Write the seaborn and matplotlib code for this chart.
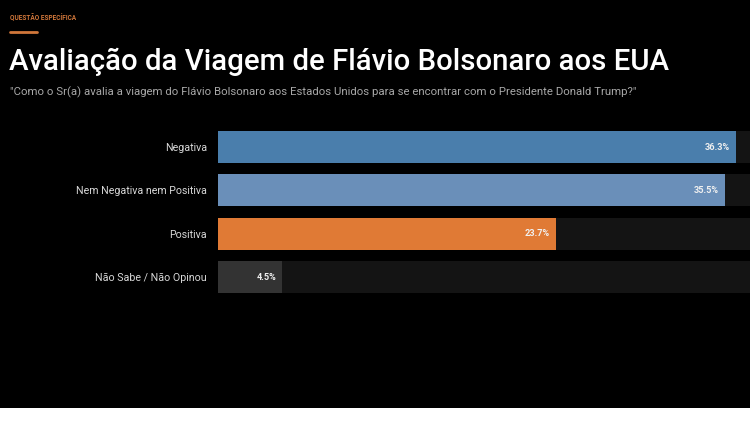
import matplotlib
matplotlib.use("Agg")
import matplotlib.pyplot as plt
import seaborn as sns
import pandas as pd

categorias = ["Negativa", "Nem Negativa nem Positiva", "Positiva", "Não Sabe / Não Opinou"]
valores = [36.3, 35.5, 23.7, 4.5]
cores = ["#4a7eac", "#6a8fb9", "#e07a35", "#333333"]
rotulos = ["36.3%", "35.5%", "23.7%", "4.5%"]

df = pd.DataFrame({"categoria": categorias, "valor": valores})
df["fundo"] = 100.0

sns.set_theme(style="dark")
plt.rcParams["font.family"] = ["Roboto", "DejaVu Sans"]

fig = plt.figure(figsize=(7.5, 4.23), dpi=100)
fig.patch.set_facecolor("black")
ax = fig.add_axes([218 / 750, 1 - 298.7 / 423, 1 - 218 / 750, (298.7 - 125.4) / 423])
ax.set_facecolor("black")

# trilha de fundo
sns.barplot(data=df, x="fundo", y="categoria", color="#141414", width=0.74,
            orient="h", ax=ax, saturation=1, linewidth=0)
sns.barplot(data=df, x="valor", y="categoria", hue="categoria", palette=cores,
            width=0.74, orient="h", ax=ax, saturation=1, legend=False, linewidth=0)

ax.set_xlim(0, (750 - 218) / 14.27)
ax.set_ylim(3.5, -0.5)
ax.set_xlabel("")
ax.set_ylabel("")
ax.set_xticks([])
ax.tick_params(axis="y", length=0, pad=8, labelsize=7.7, labelcolor="#d8d8d8")
for s in ax.spines.values():
    s.set_visible(False)
ax.grid(False)

for i, (v, r) in enumerate(zip(valores, rotulos)):
    ax.text(v - 0.42, i, r, ha="right", va="center", fontsize=6.6,
            fontweight="bold", color="#f0f0f0")

# cabeçalho
fig.text(10 / 750, 1 - 18 / 423, "QUESTÃO ESPECÍFICA", fontsize=4.7, fontweight="bold",
         color="#d0763a", va="center", ha="left")
fig.add_artist(plt.Line2D([10 / 750, 37 / 750], [1 - 32 / 423] * 2, color="#d0763a", lw=2))
fig.text(9 / 750, 1 - 62 / 423, "Avaliação da Viagem de Flávio Bolsonaro aos EUA",
         fontsize=21.2, fontweight="medium", color="white", va="center", ha="left")
fig.text(10 / 750, 1 - 92 / 423,
         "\"Como o Sr(a) avalia a viagem do Flávio Bolsonaro aos Estados Unidos para se encontrar com o Presidente Donald Trump?\"",
         fontsize=8.2, color="#a8a8a8", va="center", ha="left")

# faixa branca inferior
fig.add_artist(plt.Rectangle((0, 0), 1, 15 / 423, transform=fig.transFigure,
                             facecolor="white", edgecolor="none"))

fig.savefig("out.png", dpi=100, facecolor=fig.get_facecolor())
